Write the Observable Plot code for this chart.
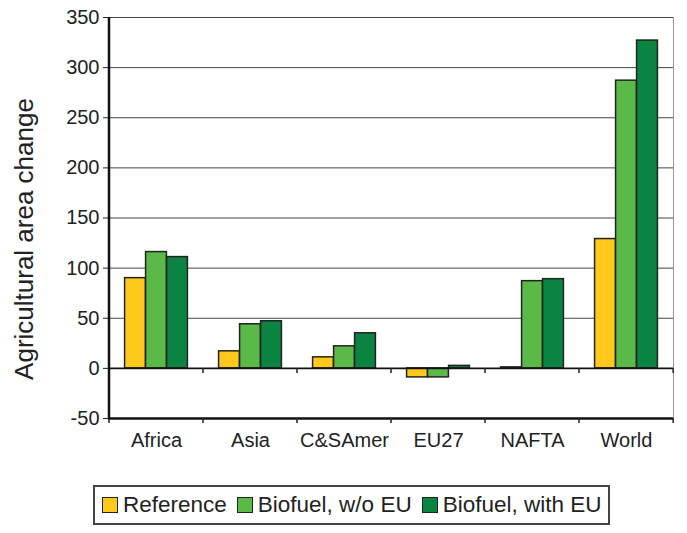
<!DOCTYPE html>
<html>
<head>
<meta charset="utf-8">
<script src="https://cdn.jsdelivr.net/npm/d3@7"></script>
<script src="https://cdn.jsdelivr.net/npm/@observablehq/plot@0.6"></script>
<style>
  body { margin: 0; background: #fff; font-family: "Liberation Sans", Arial, sans-serif; }
  #legend { margin-top: 20px; margin-left: 93px; width: 513px; height: 36px; border: 2px solid #444;
    display: flex; align-items: center; font-size: 22.5px; color: #222; white-space: nowrap; }
  .item { display: flex; align-items: center; margin-left: 7px; margin-right: 3px; }
  .sw { width: 14px; height: 14px; border: 1px solid #222; margin-right: 5px; }
</style>
</head>
<body>
<div id="chart"></div>
<div id="legend"></div>
<script>
const regions = ["Africa", "Asia", "C&SAmer", "EU27", "NAFTA", "World"];
const series = ["Reference", "Biofuel, w/o EU", "Biofuel, with EU"];
const reference = [90, 17, 11, -9, 1, 129];
const biofuelWoEU = [116, 44, 22, -9, 87, 287];
const biofuelWithEU = [111, 47, 35, 2.5, 89, 327];
const colors = ["#FFC91B", "#5BBA47", "#0B8441"];
const yTicks = [-50, 0, 50, 100, 150, 200, 250, 300, 350];
const yTitle = "Agricultural area change";

const valuesBySeries = [reference, biofuelWoEU, biofuelWithEU];
const data = [];
series.forEach((s, i) => regions.forEach((r, j) => data.push({region: r, series: s, value: valuesBySeries[i][j]})));

const W = 687, H = 465, mL = 108, mR = 14, mT = 17, mB = 47;
const bandW = (W - mL - mR) / regions.length;
const barW = 21;
const inset = (bandW - barW) / 2;

const boundaryMark = (index, scales, values, dims) => {
  const g = d3.create("svg:g");
  const y0 = scales.y(0), yb = scales.y(-50), yt = scales.y(350);
  const bw = typeof scales.x.bandwidth === "number" ? scales.x.bandwidth : bandW;
  const xs = regions.map(r => scales.x(r));
  xs.push(xs[xs.length - 1] + bw);
  xs.forEach(x => {
    g.append("line").attr("x1", x).attr("x2", x).attr("y1", y0).attr("y2", y0 + 5).attr("stroke", "#222").attr("stroke-width", 1.5);
    g.append("line").attr("x1", x).attr("x2", x).attr("y1", yb).attr("y2", yb + 5).attr("stroke", "#222").attr("stroke-width", 1.5);
  });
  g.append("line").attr("x1", xs[0]).attr("x2", xs[0]).attr("y1", yt).attr("y2", yb + 1).attr("stroke", "#111").attr("stroke-width", 2.5);
  return g.node();
};

const chart = Plot.plot({
  width: W, height: H,
  marginLeft: mL, marginRight: mR, marginTop: mT, marginBottom: mB,
  style: {fontFamily: "'Liberation Sans', Arial, sans-serif", fontSize: "20px", color: "#222", background: "#fff"},
  x: {domain: regions, padding: 0, tickSize: 0, tickPadding: 14, label: null},
  y: {domain: [-50, 350], ticks: yTicks, tickSize: 5, tickPadding: 4, label: null, tickFormat: d => String(d)},
  marks: [
    Plot.frame({stroke: "#999", strokeWidth: 1}),
    Plot.ruleY(yTicks.filter(t => t > 0), {stroke: "#444", strokeWidth: 1}),
    ...series.map((s, i) => Plot.barY(data.filter(d => d.series === s), {
      x: "region", y: "value", fill: colors[i], stroke: "#222", strokeWidth: 1.5,
      dx: (i - 1) * barW, insetLeft: inset, insetRight: inset
    })),
    Plot.ruleY([0], {stroke: "#111", strokeWidth: 1.6}),
    Plot.ruleY([-50], {stroke: "#111", strokeWidth: 2.5}),
    boundaryMark,
    Plot.text([yTitle], {frameAnchor: "left", textAnchor: "middle", rotate: -90, dx: -84, dy: 21,
      fontFamily: "'Liberation Sans', Arial, sans-serif", fontSize: 26, fill: "#222",
      letterSpacing: "1.8px"})
  ]
});
document.getElementById("chart").append(chart);

const legend = d3.select("#legend");
series.forEach((s, i) => {
  const it = legend.append("div").attr("class", "item");
  it.append("div").attr("class", "sw").style("background", colors[i]);
  it.append("span").text(s);
});
</script>
</body>
</html>
